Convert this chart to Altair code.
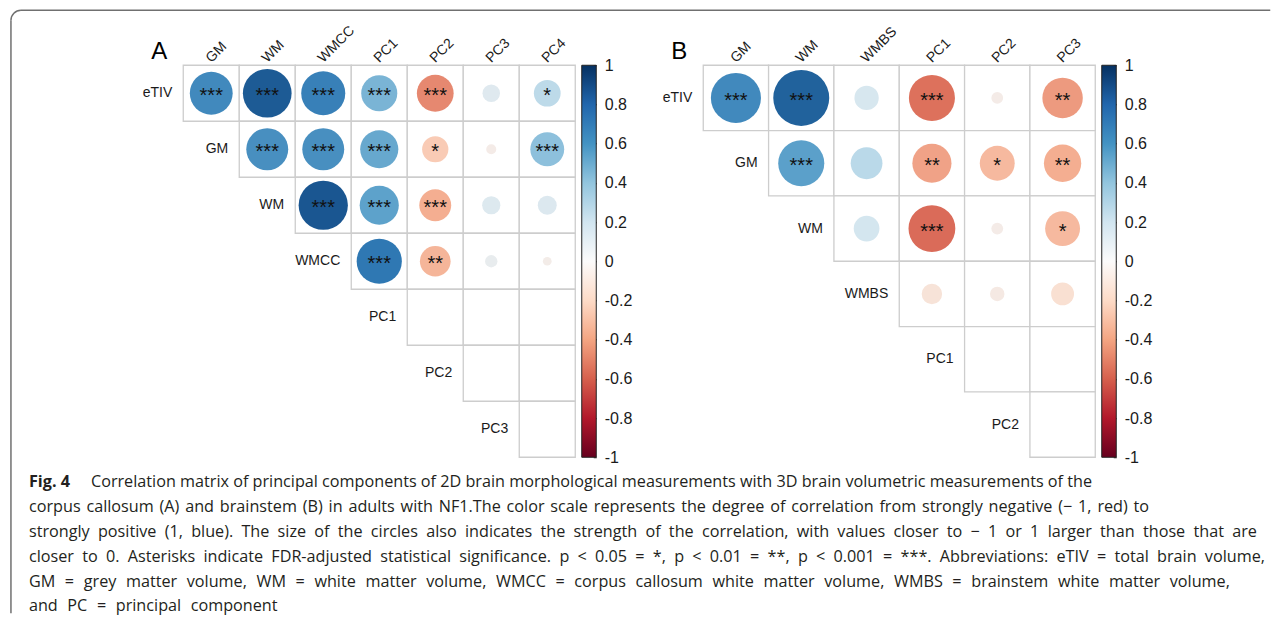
import altair as alt
import pandas as pd

# ---------------- data ----------------
A_rows = ["eTIV", "GM", "WM", "WMCC", "PC1", "PC2", "PC3"]
A_cols = ["GM", "WM", "WMCC", "PC1", "PC2", "PC3", "PC4"]
A_r = [
    [0.72, 0.93, 0.76, 0.51, -0.53, 0.12, 0.28],
    [0.69, 0.69, 0.57, -0.27, -0.04, 0.45],
    [0.95, 0.60, -0.40, 0.13, 0.14],
    [0.80, -0.37, 0.06, -0.03],
    [None, None, None],
    [None, None],
    [None],
]
A_sig = [
    ["***", "***", "***", "***", "***", "", "*"],
    ["***", "***", "***", "*", "", "***"],
    ["***", "***", "***", "", ""],
    ["***", "**", "", ""],
    ["", "", ""],
    ["", ""],
    [""],
]

B_rows = ["eTIV", "GM", "WM", "WMBS", "PC1", "PC2"]
B_cols = ["GM", "WM", "WMBS", "PC1", "PC2", "PC3"]
B_r = [
    [0.72, 0.90, 0.17, -0.61, -0.04, -0.47],
    [0.61, 0.29, -0.44, -0.35, -0.40],
    [0.19, -0.63, -0.04, -0.35],
    [-0.12, -0.06, -0.15],
    [None, None],
    [None],
]
B_sig = [
    ["***", "***", "", "***", "", "**"],
    ["***", "", "**", "*", "**"],
    ["", "***", "", "*"],
    ["", "", ""],
    ["", ""],
    [""],
]

cbar_ticks = [1, 0.8, 0.6, 0.4, 0.2, 0, -0.2, -0.4, -0.6, -0.8, -1]
cbar_range = [-1, 1]

caption_first = "Fig. 4"
caption_lines = [
    "Correlation matrix of principal components of 2D brain morphological measurements with 3D brain volumetric measurements of the",
    "corpus callosum (A) and brainstem (B) in adults with NF1.The color scale represents the degree of correlation from strongly negative (\u2212 1, red) to",
    "strongly positive (1, blue). The size of the circles also indicates the strength of the correlation, with values closer to \u2212 1 or 1 larger than those that are",
    "closer to 0. Asterisks indicate FDR-adjusted statistical significance. p < 0.05 = *, p < 0.01 = **, p < 0.001 = ***. Abbreviations: eTIV = total brain volume,",
    "GM = grey matter volume, WM = white matter volume, WMCC = corpus callosum white matter volume, WMBS = brainstem white matter volume,",
    "and PC = principal component",
]

# ---------------- styles ----------------
LAB_FONT = "Liberation Sans"
CAP_FONT = "Open Sans"
CAP_SIZE = 16.2
# extra word spacing per caption line (to mimic the typeset line lengths)
CAP_PAD = ["", "\u200a", "\u2005", "\u2005", "\u2004", "\u2004"]
GRID = "#cdcdcd"
FRAME = "#707070"
RDBU = ["#67001f", "#b2182b", "#d6604d", "#f4a582", "#fddbc7", "#fbfbfb",
        "#d1e5f0", "#92c5de", "#4393c3", "#2166ac", "#053061"]
gradient = alt.LinearGradient(
    gradient="linear",
    stops=[alt.GradientStop(color=c, offset=i / 10) for i, c in enumerate(RDBU)],
    x1=0, x2=0, y1=1, y2=0,
)
one = pd.DataFrame({"k": [0]})


def panel(rows, cols, rvals, sigs, size, dmax, letter, frame=False):
    recs = []
    for i, rn in enumerate(rows):
        for k, (v, s) in enumerate(zip(rvals[i], sigs[i])):
            recs.append({"row": rn, "col": cols[i + k], "r": v,
                         "absr": None if v is None else abs(v), "sig": s})
    df = pd.DataFrame(recs)
    xs = alt.Scale(domain=cols, paddingInner=0, paddingOuter=0)
    ys = alt.Scale(domain=rows, paddingInner=0, paddingOuter=0)
    xenc = alt.X("col:N", scale=xs, axis=None)
    yenc = alt.Y("row:N", scale=ys, axis=None)
    base = alt.Chart(df)
    grid = base.mark_rect(fill="white", stroke=GRID, strokeWidth=1.3).encode(x=xenc, y=yenc)
    circles = base.transform_filter("isValid(datum.r)").mark_circle(opacity=1).encode(
        x=xenc, y=yenc,
        size=alt.Size("absr:Q", scale=alt.Scale(domain=[0, 1], range=[0, dmax * dmax]), legend=None),
        color=alt.Color("r:Q", scale=alt.Scale(scheme="redblue", domain=[-1, 1]), legend=None),
    )
    stars = base.mark_text(font=LAB_FONT, fontSize=20, baseline="alphabetic", dy=9,
                           color="#111111").encode(x=xenc, y=yenc, text="sig:N")
    rl = pd.DataFrame({"row": rows, "col": cols[:len(rows)]})
    rowlab = alt.Chart(rl).mark_text(font=LAB_FONT, fontSize=14, align="right", baseline="middle",
                                     dx=-11, color="#1a1a1a").encode(
        x=alt.X("col:N", scale=xs, axis=None, bandPosition=0), y=yenc, text="row:N")
    collab = alt.Chart(pd.DataFrame({"col": cols})).mark_text(
        font=LAB_FONT, fontSize=14, angle=315, align="left", baseline="alphabetic",
        color="#1a1a1a").encode(x=alt.X("col:N", scale=xs, axis=None), y=alt.value(-2), text="col:N")
    lett = alt.Chart(one).mark_text(font=LAB_FONT, fontSize=24, align="center", baseline="middle",
                                    color="black", text=letter).encode(
        x=alt.value(-24), y=alt.value(-13))
    cb = alt.Chart(pd.DataFrame({"lo": [cbar_range[0]], "hi": [cbar_range[1]]})).mark_rect(
        fill=gradient, stroke="#222222", strokeWidth=1).encode(
        x=alt.value(size + 6.5), x2=alt.value(size + 21),
        y=alt.Y("lo:Q", scale=alt.Scale(domain=cbar_range, nice=False, zero=False),
                axis=alt.Axis(orient="right", values=cbar_ticks, offset=18, tickSize=3,
                              tickColor="#222222", tickWidth=1, domain=False, grid=False,
                              labelPadding=8, labelFont=LAB_FONT, labelFontSize=16,
                              labelColor="#1a1a1a", labelBaseline="middle", labelFlush=False,
                              labelOverlap=False, title=None,
                              labelExpr="datum.value == 0 ? '0' : (datum.value < 0 ? '-' : '') + format(abs(datum.value), '~g')")),
        y2="hi:Q",
    )
    layers = [grid, circles, stars, rowlab, collab, lett, cb]
    if frame:
        ftop = alt.Chart(one).mark_rule(stroke=FRAME, strokeWidth=1.5).encode(
            x=alt.value(-162.3), x2=alt.value(1087), y=alt.value(-55))
        fleft = alt.Chart(one).mark_rule(stroke=FRAME, strokeWidth=1.5).encode(
            x=alt.value(-172.3), y=alt.value(-45), y2=alt.value(548))
        corner = alt.Chart(one).mark_arc(radius=10.75, radius2=9.25, theta=4.7124, theta2=6.2832,
                                         color=FRAME).encode(x=alt.value(-162.3), y=alt.value(-45))
        layers += [ftop, fleft, corner]
    return alt.layer(*layers).resolve_scale(y="independent").properties(width=size, height=size)


pA = panel(A_rows, A_cols, A_r, A_sig, 392, 50.5, "A", frame=True)
pB = panel(B_rows, B_cols, B_r, B_sig, 392, 59, "B")

cap_text = [t.replace(" ", " " + p) for t, p in zip(caption_lines, CAP_PAD)]
cap_df = pd.DataFrame({"i": list(range(len(caption_lines))), "t": cap_text})
yc = alt.Y("i:O", scale=alt.Scale(type="point", domain=list(range(len(caption_lines))), padding=0.3), axis=None)
cap_first = alt.Chart(pd.DataFrame({"i": [0], "t": [caption_first]})).mark_text(
    font=CAP_FONT, fontSize=CAP_SIZE, fontWeight="bold", align="left", baseline="middle", color="#231f20"
).encode(x=alt.value(-154.3), y=yc, text="t:N")
cap_l1 = alt.Chart(cap_df).transform_filter("datum.i == 0").mark_text(
    font=CAP_FONT, fontSize=CAP_SIZE, align="left", baseline="middle", color="#231f20"
).encode(x=alt.value(-92.3), y=yc, text="t:N")
cap_rest = alt.Chart(cap_df).transform_filter("datum.i > 0").mark_text(
    font=CAP_FONT, fontSize=CAP_SIZE, align="left", baseline="middle", color="#231f20"
).encode(x=alt.value(-154.3), y=yc, text="t:N")
caption = alt.layer(cap_first, cap_l1, cap_rest).properties(width=392, height=139)

chart = alt.concat(pA, pB, caption, columns=2, spacing={"row": 17.6, "column": 128},
                   bounds="flush", align="each").resolve_scale(
    x="independent", y="independent", size="independent", color="shared").properties(
    padding={"left": 1.25, "top": 1.25, "right": 0, "bottom": 0}, background="white"
).configure_view(stroke=None)

chart.save("out.html", embed_options={"renderer": "svg", "actions": False})
